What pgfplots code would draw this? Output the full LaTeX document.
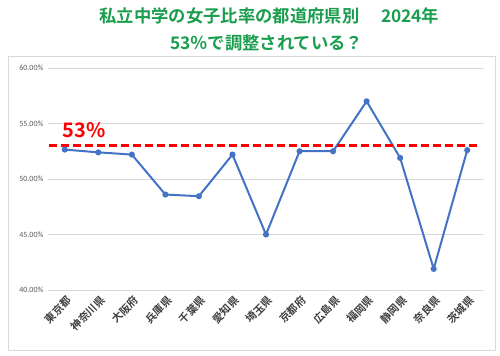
\documentclass[border=0pt]{standalone}
\usepackage{pgfplots}
\pgfplotsset{compat=1.18}
\usepackage{fontspec}
\setmainfont{Carlito}
\newfontfamily\jp{Noto Sans CJK JP}
\newfontfamily\jpb{Noto Sans CJK JP Bold}
\definecolor{titlegreen}{RGB}{26,158,78}
\definecolor{lineblue}{RGB}{68,114,196}
\definecolor{gridgray}{RGB}{217,217,217}
\definecolor{ticktext}{RGB}{89,89,89}
\definecolor{cattext}{RGB}{64,64,64}
\begin{document}
\begin{tikzpicture}
\useasboundingbox (0pt,0pt) rectangle (375pt,267pt);
\fill[white] (0pt,0pt) rectangle (375pt,267pt);
\draw[gridgray, line width=0.75pt] (6pt,3.75pt) rectangle (371.25pt,224.25pt);
\node[font=\jpb\fontsize{13}{15}\selectfont, text=titlegreen] at (202pt,255pt) {私立中学の女子比率の都道府県別\hspace{1.25em}2024年};
\node[font=\jpb\fontsize{13}{15}\selectfont, text=titlegreen] at (200pt,234.5pt) {53％で調整されている？};
\begin{axis}[
  at={(36pt,49.5pt)}, anchor=south west,
  scale only axis, width=327pt, height=166.5pt,
  xmin=-0.5, xmax=12.5, ymin=40, ymax=60,
  axis line style={draw=none},
  ytick={40,45,50,55,60},
  yticklabel={\pgfmathprintnumber[fixed,fixed zerofill,precision=2]{\tick}\%},
  /pgf/number format/assume math mode=true,
  yticklabel style={font=\fontsize{6}{7}\selectfont, text=ticktext},
  ymajorgrids, grid style={gridgray, line width=0.6pt},
  major tick length=0pt,
  xtick={0,...,12},
  xticklabels={東京都,神奈川県,大阪府,兵庫県,千葉県,愛知県,埼玉県,京都府,広島県,福岡県,静岡県,奈良県,茨城県},
  xticklabel style={font=\jpb\fontsize{8}{9}\selectfont, text=cattext, rotate=45, anchor=east, xshift=1.5pt, yshift=-7pt},
  clip=false,
]
\addplot[lineblue, line width=1.5pt, mark=*, mark size=1.5pt, mark options={fill=lineblue, draw=lineblue}] coordinates {
(0,52.65) (1,52.4) (2,52.2) (3,48.6) (4,48.45) (5,52.2) (6,45.0) (7,52.5) (8,52.5) (9,57.0) (10,51.9) (11,41.9) (12,52.6)};
\addplot[red, line width=2.25pt, dash pattern=on 6pt off 3pt] coordinates {(-0.48,53.05) (12.36,53.05)};
\node[anchor=west, text=red, font=\jpb\fontsize{15}{16}\selectfont] at (axis cs:-0.2,54.45) {53\%};
\end{axis}
\end{tikzpicture}
\end{document}
